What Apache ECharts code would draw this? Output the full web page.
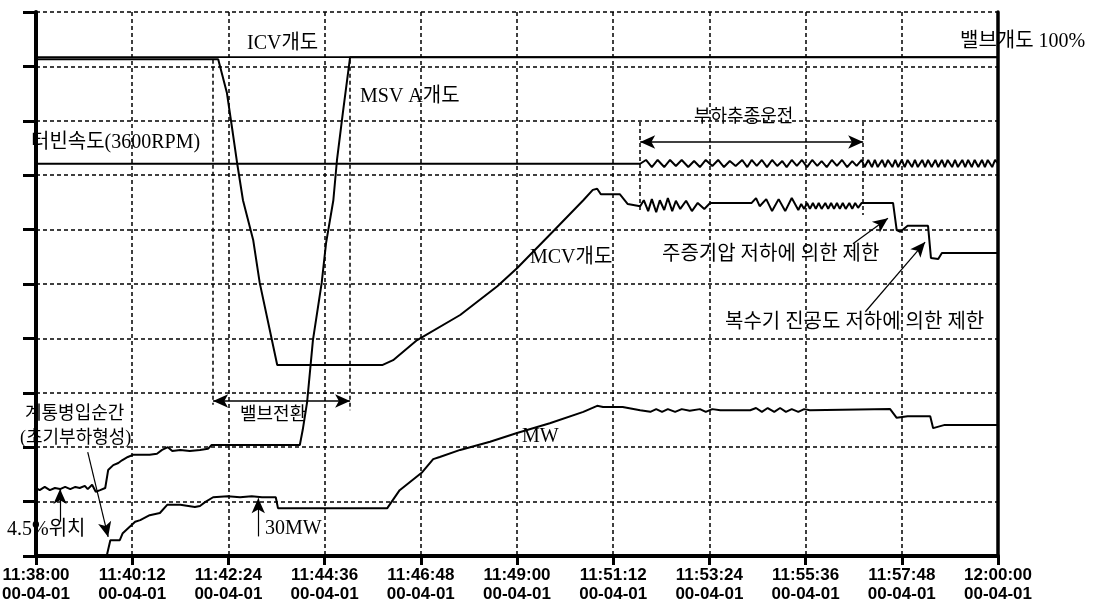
<!DOCTYPE html>
<html>
<head>
<meta charset="utf-8">
<script src="https://cdn.jsdelivr.net/npm/echarts@6/dist/echarts.min.js"></script>
<style>
    html, body { margin: 0; padding: 0; background: #fff; }
    #chart { width: 1109px; height: 601px; }
</style>
</head>
<body>
<div id="chart"></div>
<script>
// x: seconds after 11:38:00, y: 0-100 scale of the recorder
const xTickLabels = ['11:38:00', '11:40:12', '11:42:24', '11:44:36', '11:46:48', '11:49:00', '11:51:12', '11:53:24', '11:55:36', '11:57:48', '12:00:00']
const dateLabel = '00-04-01'

const icvOpen = [[0, 91.7], [1320, 91.7]]

const mcvOpen = [[0, 91.3], [250, 91.3], [262, 85.1], [270, 77.8], [276, 72.2], [284, 65.4], [298, 58.1], [307, 50.2], [331, 35.1],
    [475, 35.1], [490, 36.0], [523, 39.7], [582, 44.3], [633, 49.6], [660, 52.9], [709, 59.6], [751, 65.4], [764, 67.3], [770, 67.5],
    [775, 66.5], [801, 66.5], [812, 64.7], [829, 64.3], [834, 65.4], [840, 63.4], [845, 65.6], [851, 63.2], [856, 65.4], [862, 63.6],
    [867, 65.8], [873, 63.4], [878, 65.3], [884, 63.8], [892, 65.3], [900, 63.4], [908, 64.9], [917, 63.8], [925, 64.9], [982, 64.9],
    [988, 65.8], [993, 64.3], [1002, 65.6], [1010, 63.4], [1019, 65.6], [1028, 63.4], [1037, 65.8], [1046, 63.6], [1050, 64.7],
    [1054, 63.8], [1058, 64.9], [1062, 63.8], [1066, 64.9], [1070, 63.8], [1074, 64.9], [1078, 63.8], [1083, 64.9], [1087, 63.8],
    [1091, 64.9], [1095, 63.8], [1099, 64.9], [1103, 63.8], [1107, 64.9], [1111, 63.8], [1116, 64.9], [1120, 63.8], [1124, 64.9],
    [1128, 64.0], [1133, 64.9], [1176, 64.9], [1181, 59.9], [1186, 59.6], [1196, 60.7], [1224, 60.7], [1228, 54.8], [1238, 54.6],
    [1243, 55.7], [1320, 55.7]]

const msvOpen = [[0, 12.5], [5, 12.1], [12, 12.7], [19, 12.1], [26, 12.5], [33, 12.3], [40, 12.7], [47, 12.3], [54, 12.7], [60, 12.5],
    [67, 12.9], [71, 12.3], [77, 13.1], [82, 11.8], [88, 12.1], [95, 12.5], [99, 15.8], [106, 16.7], [113, 17.1], [118, 17.6],
    [126, 18.2], [133, 18.6], [143, 18.6], [156, 18.6], [166, 18.8], [173, 19.5], [181, 20.0], [187, 19.3], [198, 19.5], [211, 19.3],
    [225, 19.5], [236, 19.7], [241, 20.4], [294, 20.4], [362, 20.4], [366, 23.2], [372, 28.3], [380, 39.7], [392, 50.2], [398, 57.5],
    [408, 65.4], [413, 72.8], [421, 81.4], [431, 91.7], [1320, 91.7]]

const turbineSpeed = [[0, 72.1], [829, 72.1], [837, 72.8], [845, 71.5], [853, 72.8], [862, 71.5], [870, 72.8], [878, 71.7], [886, 72.8],
    [895, 71.5], [903, 72.6], [911, 71.5], [919, 72.8], [928, 71.7], [936, 72.8], [944, 71.5], [952, 72.6], [960, 71.7], [969, 72.8],
    [976, 71.5], [982, 72.8], [989, 71.7], [996, 72.8], [1003, 71.5], [1010, 72.8], [1017, 71.7], [1024, 72.6], [1030, 71.5],
    [1037, 72.8], [1044, 71.7], [1051, 72.8], [1058, 71.5], [1065, 72.8], [1072, 71.7], [1078, 72.6], [1085, 71.5], [1092, 72.8],
    [1099, 71.7], [1106, 72.8], [1113, 71.5], [1120, 72.6], [1126, 71.7], [1133, 72.8], [1137, 71.5], [1142, 72.8], [1147, 71.5],
    [1151, 72.8], [1155, 71.5], [1161, 72.8], [1165, 71.5], [1169, 72.8], [1175, 71.5], [1179, 72.8], [1183, 71.5], [1188, 72.8],
    [1192, 71.5], [1196, 72.8], [1202, 71.5], [1206, 72.8], [1210, 71.5], [1216, 72.8], [1220, 71.5], [1224, 72.8], [1229, 71.5],
    [1234, 72.8], [1238, 71.5], [1243, 72.8], [1247, 71.5], [1251, 72.8], [1257, 71.5], [1261, 72.8], [1265, 71.5], [1271, 72.8],
    [1275, 71.5], [1279, 72.8], [1284, 71.5], [1288, 72.8], [1293, 71.5], [1298, 72.8], [1302, 71.5], [1306, 72.8], [1312, 71.5],
    [1316, 72.8], [1320, 72.2]]

const megawatt = [[0, 0], [97, 0], [102, 2.9], [115, 2.9], [119, 4.2], [136, 6.3], [143, 6.6], [156, 7.5], [170, 7.9], [180, 9.4],
    [198, 9.4], [218, 9.0], [225, 9.2], [232, 9.9], [243, 10.8], [263, 11.0], [280, 10.8], [296, 11.0], [310, 10.8], [329, 10.8],
    [332, 8.8], [482, 8.8], [499, 12.1], [530, 15.4], [545, 17.8], [554, 18.2], [582, 19.5], [623, 21.0], [660, 22.6], [705, 24.4],
    [751, 26.5], [770, 27.6], [778, 27.4], [805, 27.4], [829, 26.8], [843, 26.5], [851, 27.0], [859, 26.5], [867, 27.0], [877, 26.5],
    [886, 27.0], [897, 26.7], [911, 27.0], [919, 26.5], [928, 27.0], [939, 26.8], [980, 26.8], [988, 27.2], [996, 26.5], [1004, 27.2],
    [1013, 26.5], [1021, 27.2], [1029, 26.5], [1037, 27.0], [1046, 26.5], [1054, 27.0], [1062, 26.8], [1172, 27.0], [1181, 25.4],
    [1196, 25.7], [1227, 25.7], [1231, 23.5], [1247, 24.1], [1320, 24.1]]

// annotation geometry in data units: [t, yFrom, yTo] / [tFrom, tTo, y] / [t1, y1, t2, y2]
const bracketLines = [[243, 91.2, 27.8], [431, 91.2, 26.8], [829, 79.8, 63.2], [1135, 79.8, 62.7]]
const spanArrows = [[243, 431, 28.5], [829, 1135, 76.1]]
const pointerArrows = [[1121, 57.4, 1169, 62.1], [1138, 44.9, 1220, 57.7], [71, 19.1, 99, 3.5], [33, 6.3, 33, 12.3], [305, 3.6, 305, 10.6]]

const notes = [
    ['ICV개도', 247, 44, 20],
    ['MSV A개도', 360, 97, 20],
    ['터빈속도(3600RPM)', 31, 143, 20],
    ['밸브개도 100%', 960, 42, 20],
    ['부하추종운전', 694, 117, 18],
    ['MCV개도', 530, 258, 20],
    ['주증기압 저하에 의한 제한', 662, 255, 20],
    ['복수기 진공도 저하에 의한 제한', 725, 323, 20],
    ['밸브전환', 240, 415, 18],
    ['계통병입순간', 25, 414, 18],
    ['(초기부하형성)', 20, 438, 18],
    ['4.5%위치', 7, 530, 20],
    ['30MW', 265, 529, 20],
    ['MW', 522, 437, 20],
]

const dashed = { color: '#000', type: [4, 3], width: 1.5 }

function lineSeries(name, data, width, markLine) {
    let s = {
        name: name,
        type: 'line',
        data: data,
        symbol: 'none',
        silent: true,
        animation: false,
        lineStyle: { color: '#000', width: width },
        z: 3,
    }
    if (markLine) s.markLine = markLine
    return s
}

function marks(data, symbol, lineStyle) {
    return {
        silent: true,
        animation: false,
        symbol: symbol,
        symbolSize: [10, 15],
        label: { show: false },
        emphasis: { disabled: true },
        lineStyle: lineStyle,
        itemStyle: { color: '#000' },
        data: data,
    }
}

const chart = echarts.init(document.getElementById('chart'), null, { renderer: 'canvas' })

chart.setOption({
    backgroundColor: '#fff',
    animation: false,
    grid: { left: 36, right: 111, top: 12, bottom: 45, outerBoundsMode: 'none' },
    xAxis: {
        type: 'value',
        min: 0,
        max: 1320,
        interval: 132,
        axisLine: { onZero: false, lineStyle: { color: '#000', width: 4 } },
        axisTick: { show: true, length: 9, lineStyle: { color: '#000', width: 3 } },
        axisLabel: {
            color: '#000',
            fontFamily: 'Liberation Sans',
            fontWeight: 'bold',
            fontSize: 17,
            lineHeight: 19,
            margin: 10,
            showMinLabel: true,
            showMaxLabel: true,
            hideOverlap: false,
            formatter: (v) => xTickLabels[Math.round(v / 132)] + '\n' + dateLabel,
        },
        splitLine: { show: true, lineStyle: dashed },
    },
    yAxis: [
        {
            type: 'value',
            min: 0,
            max: 100,
            interval: 10,
            axisLine: { show: true, onZero: false, lineStyle: { color: '#000', width: 4 } },
            axisTick: { show: true, length: 13, lineStyle: { color: '#000', width: 3 } },
            axisLabel: { show: false },
            splitLine: { show: true, lineStyle: dashed },
        },
        {
            type: 'value',
            position: 'right',
            min: 0,
            max: 100,
            axisLine: { show: true, onZero: false, lineStyle: { color: '#000', width: 3.5 } },
            axisTick: { show: false },
            axisLabel: { show: false },
            splitLine: { show: false },
        },
    ],
    series: [
        lineSeries('ICV개도', icvOpen, 1.8, marks(
            bracketLines.map(([t, a, b]) => [{ coord: [t, a] }, { coord: [t, b] }]),
            'none', dashed)),
        lineSeries('MCV개도', mcvOpen, 2),
        lineSeries('MSV A개도', msvOpen, 2),
        lineSeries('터빈속도', turbineSpeed, 2, marks(
            spanArrows.map(([a, b, v]) => [{ coord: [a, v] }, { coord: [b, v] }]),
            ['arrow', 'arrow'], { color: '#000', type: 'solid', width: 1.5 })),
        lineSeries('MW', megawatt, 2, marks(
            pointerArrows.map(([t1, v1, t2, v2]) => [{ coord: [t1, v1] }, { coord: [t2, v2] }]),
            ['none', 'arrow'], { color: '#000', type: 'solid', width: 1.2 })),
    ],
    graphic: notes.map(([text, x, y, size]) => ({
        type: 'text',
        x: x,
        y: y,
        z: 10,
        silent: true,
        style: {
            text: text,
            font: size + "px 'Liberation Serif', 'Noto Sans CJK KR'",
            fill: '#000',
            verticalAlign: 'middle',
        },
    })),
})
</script>
</body>
</html>
